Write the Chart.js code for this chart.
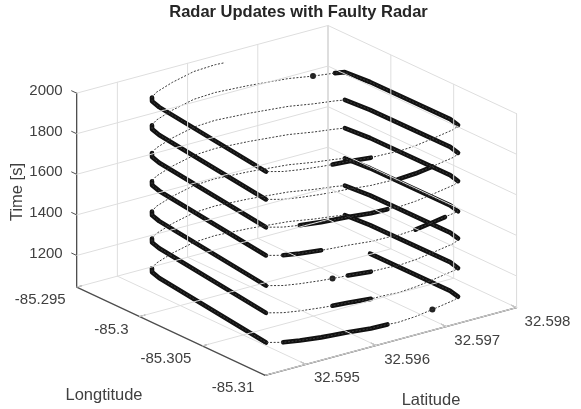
<!DOCTYPE html>
<html>
<head>
<meta charset="utf-8">
<title>Radar Updates with Faulty Radar</title>
<script src="https://cdn.jsdelivr.net/npm/chart.js@4"></script>
<style>
  html, body { margin: 0; padding: 0; background: #fff; }
  #chart { display: block; filter: blur(0.5px); }
</style>
</head>
<body>
<canvas id="chart" width="581" height="409"></canvas>
<script>
// axis ticks and limits
const latTicks = [32.595, 32.596, 32.597, 32.598];
const lonTicks = [-85.295, -85.3, -85.305, -85.31];
const timeTicks = [1200, 1400, 1600, 1800, 2000];
const latLimits = [32.59442, 32.598];
const lonLimits = [-85.31, -85.295];
const timeLimits = [1044, 2000];

// waypoints of one lap of the racetrack
const trackLat = [32.59753, 32.59735, 32.59712, 32.59682, 32.59653, 32.59639, 32.59615, 32.59585, 32.59564, 32.59549, 32.59522, 32.59502, 32.59485, 32.59501, 32.59505, 32.59512, 32.59525, 32.59557, 32.59596, 32.59627, 32.59639, 32.59668, 32.59715, 32.59740, 32.59764, 32.59774, 32.59775, 32.59767, 32.59762];
const trackLon = [-85.30771, -85.30793, -85.30822, -85.30855, -85.30876, -85.30872, -85.30874, -85.30859, -85.30854, -85.30847, -85.30828, -85.30808, -85.30766, -85.29827, -85.29748, -85.29708, -85.29670, -85.29618, -85.29572, -85.29569, -85.29580, -85.29604, -85.29660, -85.29716, -85.29756, -85.29779, -85.29974, -85.30656, -85.30747];
const trackSec = [0, 2, 5, 8, 12, 14, 17, 22, 25, 27, 31, 35, 38, 69, 71, 72, 74, 78, 82, 86, 88, 92, 99, 104, 108, 110, 117, 139, 141];
const lapStartTimes = [919, 1060, 1206, 1340, 1489, 1628, 1765, 1902];

// stretches with dense radar updates: lap, first waypoint, last waypoint
const thickLaps = [0, 1, 1, 1, 2, 2, 2, 3, 3, 3, 4, 4, 4, 4, 5, 5, 5, 6, 6, 6, 7, 7];
const thickFrom = [26, 5, 12, 25, 6, 12, 25, 6, 12, 25, 1, 9, 12, 25, 5, 12, 25, 2, 12, 24, 6, 12];
const thickTo = [28, 11, 15, 28, 8, 15, 28, 7, 15, 28, 3, 11, 15, 28, 10, 15, 28, 4, 15, 28, 8, 15];
// single clumps of updates on the sparse stretches
const clumpLaps = [1, 3, 6];
const clumpNodes = [2, 8, 23];

const AXIS = "#4d4d4d";
const GRID = "#dedede";
const EDGE = "#c4c4c4";
const FONT = '"Liberation Sans", Arial, sans-serif';

// orthographic view, same as the 3-D axes in the picture
function project(lat, lon, time) {
  const u = (lat - latLimits[0]) / 0.001;
  const w = (lon - lonLimits[0]) / 0.005;
  return {
    x: 267 + 70.7 * u - 63.3 * w,
    y: 379 - 19.1 * u - 29.7 * w - 0.205 * (time - timeLimits[0]),
  };
}

function trackPoint(lap, node) {
  return project(trackLat[node], trackLon[node], lapStartTimes[lap] + trackSec[node]);
}

function run(lap, from, to) {
  const pts = [];
  for (let n = from; n <= to; n++) pts.push(trackPoint(lap, n));
  return pts;
}

function lineSet(data, color, width, dash) {
  return {
    data,
    borderColor: color,
    backgroundColor: color,
    borderWidth: width,
    borderDash: dash || [],
    borderCapStyle: dash ? "butt" : "round",
    borderJoinStyle: "round",
    showLine: true,
    pointRadius: 0,
    clip: false,
  };
}

const [latLo, latHi] = latLimits;
const [lonLo, lonHi] = lonLimits;
const [tLo, tHi] = timeLimits;
const datasets = [];

function addSeg(a, b, color, width) {
  datasets.push(lineSet([project(...a), project(...b)], color, width));
}

// grid on the floor and the two back walls
latTicks.forEach((lat) => {
  addSeg([lat, lonLo, tLo], [lat, lonHi, tLo], GRID, 1);
  addSeg([lat, lonHi, tLo], [lat, lonHi, tHi], GRID, 1);
});
lonTicks.forEach((lon) => {
  addSeg([latLo, lon, tLo], [latHi, lon, tLo], GRID, 1);
  addSeg([latHi, lon, tLo], [latHi, lon, tHi], GRID, 1);
});
timeTicks.forEach((t) => {
  addSeg([latLo, lonHi, t], [latHi, lonHi, t], GRID, 1);
  addSeg([latHi, lonHi, t], [latHi, lonLo, t], GRID, 1);
});
addSeg([latHi, lonHi, tLo], [latHi, lonHi, tHi], EDGE, 1);
addSeg([latHi, lonLo, tLo], [latHi, lonLo, tHi], EDGE, 1);

// axes and their tick marks
addSeg([latLo, lonHi, tLo], [latLo, lonHi, tHi], AXIS, 1.3);
addSeg([latLo, lonHi, tLo], [latLo, lonLo, tLo], AXIS, 1.3);
addSeg([latLo, lonLo, tLo], [latHi, lonLo, tLo], AXIS, 1.3);
timeTicks.forEach((t) => addSeg([latLo, lonHi, t], [latLo, lonHi + 0.0004, t], AXIS, 1));
lonTicks.forEach((lon) => addSeg([latLo, lon, tLo], [latLo + 0.00008, lon, tLo], AXIS, 1));
latTicks.forEach((lat) => addSeg([lat, lonLo, tLo], [lat, lonLo + 0.0004, tLo], AXIS, 1));

// the whole flight, sparse updates
const flight = run(0, 26, 28);
for (let lap = 1; lap < lapStartTimes.length - 1; lap++) flight.push(...run(lap, 0, 28));
flight.push(...run(lapStartTimes.length - 1, 0, 20));
datasets.push(lineSet(flight, "#3a3a3a", 1, [2, 1.6]));

// dense updates
thickLaps.forEach((lap, i) => {
  datasets.push(lineSet(run(lap, thickFrom[i], thickTo[i]), "#111111", 4.6));
});
datasets.push({
  data: clumpLaps.map((lap, i) => trackPoint(lap, clumpNodes[i])),
  pointRadius: 3,
  pointBackgroundColor: "#222",
  pointBorderWidth: 0,
  showLine: false,
  clip: false,
});

const axisText = {
  id: "axisText",
  afterDraw(chart) {
    const { ctx, scales } = chart;
    const px = (p) => [scales.x.getPixelForValue(p.x), scales.y.getPixelForValue(p.y)];
    ctx.save();
    ctx.fillStyle = "#404040";
    ctx.font = "15px " + FONT;
    ctx.textBaseline = "middle";

    ctx.textAlign = "right";
    timeTicks.forEach((t) => {
      const [x, y] = px(project(latLo, lonHi, t));
      ctx.fillText(String(t), x - 14, y - 2);
    });
    lonTicks.forEach((lon) => {
      const [x, y] = px(project(latLo, lon, tLo));
      ctx.fillText(String(lon), x - 11, y + 13);
    });
    ctx.textAlign = "left";
    latTicks.forEach((lat) => {
      const [x, y] = px(project(lat, lonLo, tLo));
      ctx.fillText(String(lat), x + 8, y + 14);
    });

    ctx.textAlign = "center";
    ctx.font = "16.5px " + FONT;
    ctx.fillText("Longtitude", 104, 395);
    ctx.fillText("Latitude", 431, 400);
    ctx.translate(17, 192);
    ctx.rotate(-Math.PI / 2);
    ctx.fillText("Time [s]", 0, 0);
    ctx.restore();
  },
};

new Chart(document.getElementById("chart"), {
  type: "scatter",
  data: { datasets },
  plugins: [axisText],
  options: {
    responsive: false,
    animation: false,
    devicePixelRatio: 1,
    layout: { padding: { left: 16 } },
    scales: {
      x: { type: "linear", display: false, min: 16, max: 581 },
      y: { type: "linear", display: false, min: 22, max: 409, reverse: true },
    },
    plugins: {
      legend: { display: false },
      tooltip: { enabled: false },
      title: {
        display: true,
        text: "Radar Updates with Faulty Radar",
        color: "#262626",
        font: { family: FONT, size: 16.5, weight: "bold", lineHeight: 1.15 },
        padding: { top: 3, bottom: 0 },
      },
    },
  },
});
</script>
</body>
</html>
